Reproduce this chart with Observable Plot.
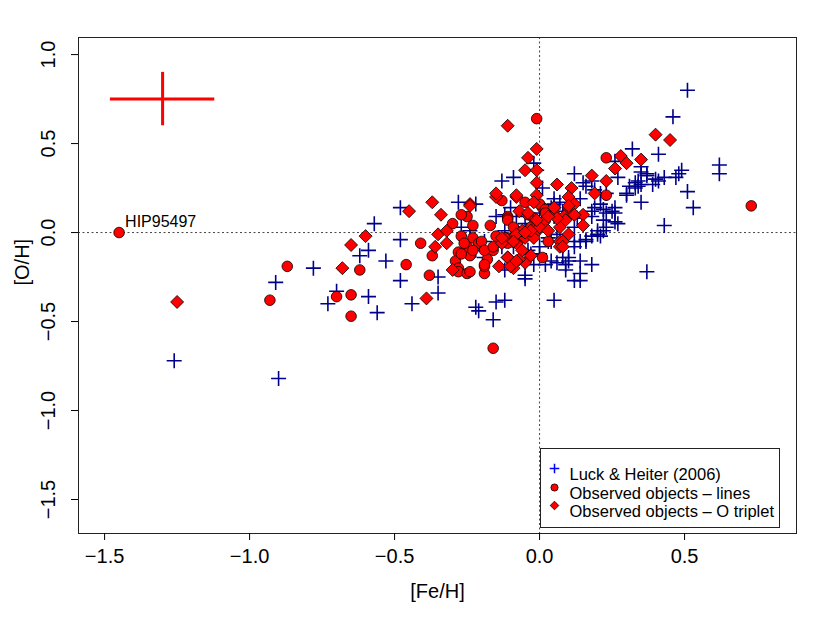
<!DOCTYPE html>
<html><head><meta charset="utf-8">
<script src="https://cdn.jsdelivr.net/npm/d3@7"></script>
<script src="https://cdn.jsdelivr.net/npm/@observablehq/plot@0.6"></script>
<style>body{margin:0;background:#fff;} #chart svg{display:block;}</style>
</head><body><div id="chart"></div>
<script>
const xTicks = [-1.5, -1, -0.5, 0, 0.5];
const yTicks = [-1.5, -1, -0.5, 0, 0.5, 1];
const xTitle = "[Fe/H]";
const yTitle = "[O/H]";

// Luck & Heiter (2006)
const lhFe = [-1.26,-0.90,-0.91,-0.78,-0.70,-0.73,-0.59,-0.56,-0.57,-0.59,-0.62,-0.53,-0.48,-0.48,-0.48,-0.44,-0.35,-0.35,-0.22,-0.21,
  -0.15,-0.12,-0.16,-0.05,0.05,0.12,0.14,0.10,-0.28,-0.22,-0.15,-0.12,-0.13,-0.09,-0.02,0.12,0.01,-0.22,-0.12,-0.09,
  -0.03,0.02,0.04,0.06,0.00,0.03,0.05,0.03,0.51,0.46,0.32,0.41,0.15,0.35,0.49,0.62,0.62,0.47,0.43,0.40,
  0.37,0.34,0.31,0.30,0.35,0.51,0.53,0.21,0.19,0.14,0.26,0.43,0.37,0.09,0.30,0.26,0.27,0.22,0.23,0.20,
  0.18,0.16,0.12,0.18,0.22,0.35,0.39,0.33,-0.12,-0.13,-0.19,-0.04,0.00,0.10,0.14,0.12,0.21,0.16,0.23,0.14,
  -0.05,0.12,0.06,0.03,-0.02,-0.05,-0.08,0.00,0.04,0.08,0.13,0.26,0.23,0.26,-0.01,0.18,-0.24,-0.27,-0.19,0.35,
  0.37,0.48,0.41,0.33,0.34,0.27,0.21,0.25,0.18,0.22,0.20,0.18,0.08,0.04,0.14,0.05,0.19,0.16,-0.02,-0.10,
  0.09,0.07,0.05];
const lhOH = [-0.72,-0.82,-0.28,-0.20,-0.33,-0.40,-0.36,-0.45,0.05,-0.10,-0.13,-0.16,-0.27,-0.04,0.14,-0.40,-0.25,-0.34,-0.42,-0.44,
  -0.39,-0.38,-0.49,-0.26,-0.38,-0.27,-0.27,-0.16,0.17,0.16,0.09,0.10,0.29,0.31,0.39,0.33,0.25,-0.10,-0.21,-0.08,
  -0.12,-0.18,-0.16,-0.17,-0.08,-0.05,0.09,0.12,0.80,0.65,0.47,0.44,0.28,0.37,0.35,0.38,0.33,0.31,0.31,0.30,
  0.32,0.29,0.26,0.21,0.17,0.23,0.14,0.16,0.14,0.19,0.14,0.04,-0.22,-0.18,0.22,0.06,0.05,0.13,0.11,-0.01,
  -0.02,-0.04,-0.05,0.09,0.01,0.27,0.27,0.25,0.01,-0.08,-0.14,-0.10,-0.12,-0.14,-0.16,-0.08,-0.02,-0.05,0.03,-0.23,
  -0.24,0.03,-0.01,-0.03,0.01,0.05,0.09,0.11,0.14,0.12,0.08,0.11,0.22,0.40,0.35,0.29,0.01,0.03,-0.05,0.34,
  0.33,0.33,0.29,0.28,0.26,0.31,0.22,0.12,0.12,0.07,0.01,-0.18,-0.14,-0.05,-0.05,0.16,0.24,0.26,-0.18,0.14,
  -0.21,0.17,0.19];

// Observed objects - lines
const linesFe = [-1.45,-0.87,-0.93,-0.62,-0.65,-0.70,-0.65,-0.01,-0.13,-0.05,0.01,0.05,-0.25,-0.27,-0.11,-0.41,-0.46,-0.37,-0.38,-0.30,
  -0.23,-0.27,-0.23,-0.21,-0.25,-0.28,-0.24,-0.29,-0.28,-0.28,-0.25,-0.19,-0.19,-0.16,-0.18,-0.17,-0.15,-0.11,-0.11,-0.02,
  -0.03,0.01,-0.16,0.23,0.23,0.73,-0.26,-0.20,-0.11,0.00,0.02,0.10,0.02,-0.02,0.03,-0.19,-0.23,-0.27,-0.24,-0.19,
  -0.09,-0.08,-0.16,-0.04,0.02,-0.09,-0.01,-0.12,-0.11,-0.07];
const linesOH = [0.00,-0.19,-0.38,-0.21,-0.35,-0.36,-0.47,0.64,0.18,0.17,0.14,0.11,0.09,0.10,0.09,-0.06,-0.18,-0.13,-0.24,0.05,
  0.04,-0.02,-0.03,-0.06,-0.08,-0.11,-0.13,-0.16,-0.20,-0.22,-0.23,-0.23,-0.19,-0.10,-0.15,0.04,-0.02,-0.03,0.08,0.08,
  0.03,-0.14,-0.65,0.42,0.21,0.15,-0.06,-0.05,0.07,0.16,0.13,0.13,0.07,0.02,-0.05,-0.10,-0.10,-0.12,-0.22,-0.18,
  -0.05,0.01,-0.08,0.10,0.11,0.03,0.01,-0.03,-0.06,-0.04];

// Observed objects - O triplet
const tripFe = [-1.25,-0.60,-0.65,-0.68,-0.11,-0.01,-0.04,-0.05,-0.01,-0.01,0.06,0.11,-0.15,-0.08,-0.01,-0.37,-0.45,-0.34,-0.24,0.10,
  -0.35,-0.32,-0.32,-0.36,-0.39,-0.30,-0.14,-0.11,-0.09,-0.05,-0.08,-0.13,-0.05,0.07,0.07,0.10,0.05,0.09,0.10,0.12,
  0.07,-0.06,-0.02,0.00,0.40,0.45,0.28,0.30,0.35,0.26,0.18,0.23,0.19,0.15,0.12,0.09,0.15,0.08,0.08,0.06,
  -0.24,-0.15,-0.08,-0.07,-0.04,-0.08,-0.03,-0.09,-0.13,-0.11,-0.10,-0.07,-0.03,-0.06,0.03,-0.01,0.10,0.03,-0.02,-0.05,
  -0.08];
const tripOH = [-0.39,-0.02,-0.07,-0.20,0.60,0.47,0.42,0.35,0.35,0.28,0.27,0.25,0.20,0.20,0.21,0.17,0.12,0.10,0.16,0.20,
  -0.01,0.01,-0.06,-0.08,-0.37,-0.21,-0.19,-0.14,-0.20,-0.17,-0.06,-0.06,-0.03,0.03,-0.05,-0.01,0.14,0.10,0.14,0.16,
  -0.08,0.01,-0.03,0.03,0.55,0.52,0.43,0.39,0.41,0.36,0.32,0.29,0.22,0.10,0.10,0.07,0.04,-0.05,-0.08,0.08,
  0.15,0.22,0.21,0.12,0.11,-0.01,0.01,-0.05,-0.03,-0.14,-0.19,-0.15,-0.13,-0.10,0.01,0.07,0.15,0.09,0.17,0.00,
  -0.16];

// Typical error bar
const errFe = -1.30, errOH = 0.75, errFeHalf = 0.18, errOHHalf = 0.15;
// Annotated star
const noteName = "HIP95497", noteFe = -1.45, noteOH = 0.00;
const legendLabels = ["Luck & Heiter (2006)", "Observed objects – lines", "Observed objects – O triplet"];

const lh = lhFe.map((v, i) => ({fe: v, oh: lhOH[i]}));
const lines = linesFe.map((v, i) => ({fe: v, oh: linesOH[i]}));
const trip = tripFe.map((v, i) => ({fe: v, oh: tripOH[i]}));

const sym = fn => ({draw(c, size) { const r = Math.sqrt(size / Math.PI); fn(c, r); }});
const plusSym = sym((c, r) => { c.moveTo(-r, 0); c.lineTo(r, 0); c.moveTo(0, -r); c.lineTo(0, r); });
const diamondSym = sym((c, r) => { c.moveTo(0, -r); c.lineTo(r, 0); c.lineTo(0, r); c.lineTo(-r, 0); c.closePath(); });
const fmt = d3.format(".1f");

const legendMarks = [];
const legendRowDy = [431, 450, 468];
legendMarks.push(Plot.frame({insetLeft: 462, insetRight: 17, insetTop: 411, insetBottom: 6, fill: "white", stroke: "#222"}));
legendMarks.push(Plot.dot([legendLabels[0]], {frameAnchor: "top-left", dx: 476, dy: legendRowDy[0], symbol: plusSym, r: 4.8, stroke: "blue", strokeWidth: 1.5, fill: "none"}));
legendMarks.push(Plot.dot([legendLabels[1]], {frameAnchor: "top-left", dx: 476, dy: legendRowDy[1], r: 3.6, fill: "red", stroke: "black", strokeWidth: 0.8}));
legendMarks.push(Plot.dot([legendLabels[2]], {frameAnchor: "top-left", dx: 476, dy: legendRowDy[2], symbol: diamondSym, r: 4.3, fill: "red", stroke: "black", strokeWidth: 0.8}));
legendLabels.forEach((t, i) => legendMarks.push(Plot.text([t], {frameAnchor: "top-left", dx: 491, dy: legendRowDy[i], text: d => d, textAnchor: "start", fontSize: 16.5})));

const chart = Plot.plot({
  width: 830, height: 623,
  marginLeft: 78, marginRight: 34, marginTop: 37, marginBottom: 90,
  style: {fontFamily: "'Liberation Sans', Arial, sans-serif", fontSize: "20px", background: "white", color: "black"},
  x: {domain: [-1.59, 0.886], label: null},
  y: {domain: [-1.691, 1.096], label: null},
  marks: [
    Plot.ruleX([0], {stroke: "#444", strokeDasharray: "2,2.5", strokeWidth: 1}),
    Plot.ruleY([0], {stroke: "#444", strokeDasharray: "2,2.5", strokeWidth: 1}),
    Plot.dot(lh, {x: "fe", y: "oh", symbol: plusSym, r: 7.5, stroke: "#00008B", strokeWidth: 1.6, fill: "none"}),
    Plot.dot(lines, {x: "fe", y: "oh", r: 5.3, fill: "red", stroke: "black", strokeWidth: 0.8}),
    Plot.dot(trip, {x: "fe", y: "oh", symbol: diamondSym, r: 6.5, fill: "red", stroke: "black", strokeWidth: 0.8}),
    Plot.ruleY([{y: errOH, x1: errFe - errFeHalf, x2: errFe + errFeHalf}], {y: "y", x1: "x1", x2: "x2", stroke: "red", strokeWidth: 3}),
    Plot.ruleX([{x: errFe, y1: errOH - errOHHalf, y2: errOH + errOHHalf}], {x: "x", y1: "y1", y2: "y2", stroke: "red", strokeWidth: 3}),
    Plot.text([{fe: noteFe, oh: noteOH, name: noteName}], {x: "fe", y: "oh", text: "name", dx: 6, dy: -11, textAnchor: "start", fontSize: 16}),
    ...legendMarks,
    Plot.frame({stroke: "#222"}),
    Plot.axisX({ticks: xTicks, tickSize: 7, tickPadding: 8, tickFormat: fmt, fontSize: 20, label: null}),
    Plot.axisY({ticks: yTicks, tickSize: 7, tickRotate: -90, tickPadding: 17, tickFormat: fmt, fontSize: 20, label: null}),
    Plot.text([xTitle], {frameAnchor: "bottom", dy: 64, text: d => d, fontSize: 20}),
    Plot.text([yTitle], {frameAnchor: "left", dx: -56, rotate: -90, text: d => d, fontSize: 20})
  ]
});
document.getElementById("chart").appendChild(chart);
</script>
</body></html>
